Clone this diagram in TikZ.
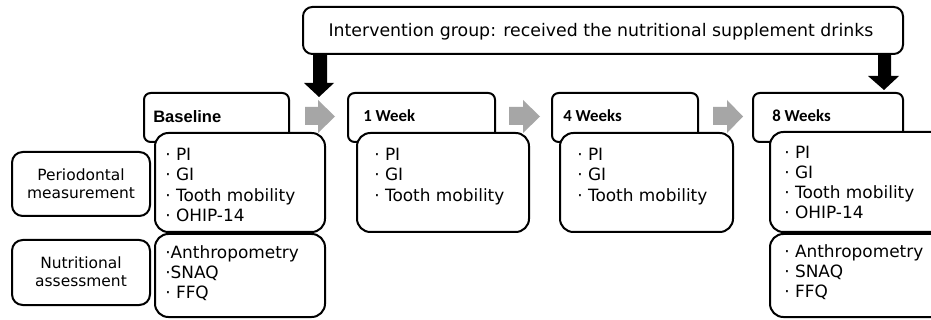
\documentclass[tikz,border=0pt]{standalone}
\usepackage{fontspec}
\setmainfont{DejaVu Sans}
\newfontfamily\arialfont{Liberation Sans}
\newfontfamily\calfont{Carlito}
\usetikzlibrary{fit}
\definecolor{arrowgray}{RGB}{166,166,166}
\begin{document}
\begin{tikzpicture}[x=0.75pt,y=-0.75pt,
  boxbase/.style={draw=black, line width=1.5pt, fill=white, inner sep=0pt},
  topbox/.style={boxbase, rounded corners=7pt},
  hdrbox/.style={boxbase, rounded corners=5pt},
  contbox/.style={boxbase, rounded corners=10pt},
  lblbox/.style={boxbase, rounded corners=8pt},
  toptext/.style={font=\fontsize{13}{15}\selectfont, inner sep=0pt},
  lbltext/.style={font=\fontsize{11.6}{13.5}\selectfont, align=center, inner sep=0pt},
  conttext/.style={font=\fontsize{12.7}{15.4}\selectfont, align=left, inner sep=0pt, anchor=north west},
  conttextb/.style={font=\fontsize{12.7}{15}\selectfont, align=left, inner sep=0pt, anchor=north west},
  hdrA/.style={font=\arialfont\bfseries\fontsize{12.4}{14}\selectfont, inner sep=0pt, anchor=base west},
  hdrC/.style={font=\calfont\bfseries\fontsize{12.6}{14}\selectfont, inner sep=0pt, anchor=base west},
  blockarrow/.style={fill=black, draw=none},
  grayarrow/.style={fill=arrowgray, draw=none}]
\useasboundingbox (0,0) rectangle (931,320);
\clip (0,0) rectangle (931,320);
\fill[white] (0,0) rectangle (931,320);

% top box
\node[topbox, fit={(303,7) (903,54)}] (top) {};
\node[toptext, anchor=base] (toptxt) at (601,37) {Intervention group: received the nutritional supplement drinks};

% black arrows
\fill[blockarrow] (313,54) -- (327,54) -- (327,83) -- (334,83) -- (319,97) -- (304,83) -- (313,83) -- cycle;
\fill[blockarrow] (878,54) -- (891,54) -- (891,76) -- (899,76) -- (884,90) -- (868,76) -- (878,76) -- cycle;

% gray arrows
\fill[grayarrow] (305,107) -- (318,107) -- (318,100) -- (335,116.5) -- (318,133) -- (318,125) -- (305,125) -- cycle;
\fill[grayarrow] (509,107) -- (523,107) -- (523,100) -- (540,116.5) -- (523,133) -- (523,125) -- (509,125) -- cycle;
\fill[grayarrow] (713,107) -- (727,107) -- (727,100) -- (743,116.5) -- (727,133) -- (727,125) -- (713,125) -- cycle;

% left labels
\node[lblbox, fit={(12,152) (150,216)}] (perio) {};
\node[lbltext] (periotxt) at (81,184) {Periodontal\\measurement};
\node[lblbox, fit={(12,240) (150,305)}] (nutri) {};
\node[lbltext] (nutritxt) at (81,272) {Nutritional\\assessment};

% header boxes
\node[hdrbox, fit={(144,93) (289,142)}] (h0) {};
\node[hdrbox, fit={(348,93) (495,142)}] (h1) {};
\node[hdrbox, fit={(552,93) (698,142)}] (h4) {};
\node[hdrbox, fit={(753,93) (903,142)}] (h8) {};
\node[hdrA] (h0t) at (153,123) {Baseline};
\node[hdrC] (h1t) at (363,122) {1 Week};
\node[hdrC] (h4t) at (563,122) {4 Weeks};
\node[hdrC] (h8t) at (772,122) {8 Weeks};

% content boxes
\node[contbox, fit={(155,133) (325,232)}] (c0a) {};
\node[contbox, fit={(155,234) (325,317)}] (c0b) {};
\node[contbox, fit={(357,133) (529,232)}] (c1a) {};
\node[contbox, fit={(560,133) (733,232)}] (c4a) {};
\node[contbox, fit={(770,132) (950,232)}] (c8a) {};
\node[contbox, fit={(770,234) (950,317)}] (c8b) {};

\node[conttext] (c0at) at (165,147.5) {· PI\\· GI\\· Tooth mobility\\· OHIP-14};
\node[conttextb] (c0bt) at (165,245) {·Anthropometry\\·SNAQ\\· FFQ};
\node[conttext] (c1at) at (374,147.5) {· PI\\· GI\\· Tooth mobility};
\node[conttext] (c4at) at (577,147.5) {· PI\\· GI\\· Tooth mobility};
\node[conttextb] (c8at) at (784,145.5) {· PI\\· GI\\· Tooth mobility\\· OHIP-14};
\node[conttextb] (c8bt) at (784,244) {· Anthropometry\\· SNAQ\\· FFQ};
\end{tikzpicture}
\end{document}
